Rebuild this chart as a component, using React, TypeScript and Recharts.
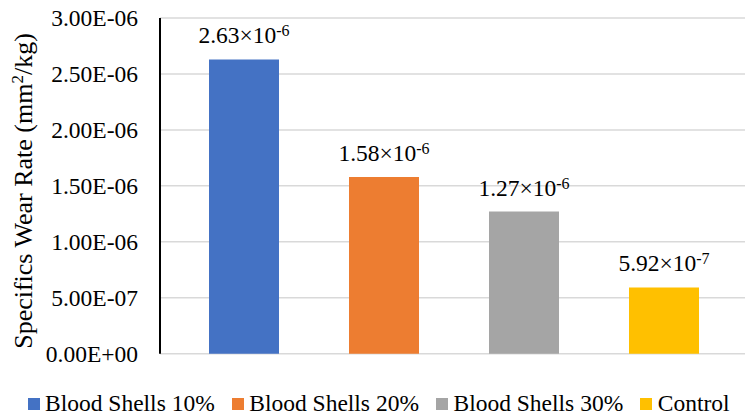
import React from 'react';
import { BarChart, Bar, XAxis, YAxis, CartesianGrid, Legend, LabelList } from 'recharts';

const seriesKeys = ['bs10', 'bs20', 'bs30', 'control'];
const seriesNames = ['Blood Shells 10%', 'Blood Shells 20%', 'Blood Shells 30%', 'Control'];
const wearRates = [2.63e-6, 1.58e-6, 1.27e-6, 5.92e-7];
const seriesColors = ['#4472C4', '#ED7D31', '#A5A5A5', '#FFC000'];
const yTicks = [0, 5e-7, 1e-6, 1.5e-6, 2e-6, 2.5e-6, 3e-6];

const data = [
    {
        name: 'Specific wear rate',
        ...Object.fromEntries(seriesKeys.map((key, i) => [key, wearRates[i]])),
    },
];

const FONT = 'Liberation Serif, serif';

// 2.5e-6 -> "2.50E-06"
const formatTick = (v: number) => {
    const [m, e] = v.toExponential(2).split('e');
    const n = parseInt(e, 10);
    return `${m}E${n < 0 ? '-' : '+'}${String(Math.abs(n)).padStart(2, '0')}`;
};

const ValueLabel = (props: any) => {
    const { x, y, width, value } = props;
    const [m, e] = Number(value).toExponential(2).split('e');
    const exp = String(parseInt(e, 10));
    return (
        <text x={x + width / 2} y={y - 16} textAnchor="middle" fontFamily={FONT} fontSize={23.5} fill="#000">
            {`${m}×10`}
            <tspan dy={-7} fontSize={16}>{exp}</tspan>
        </text>
    );
};

const YTitle = () => (
    <text
        x={32}
        y={191}
        transform="rotate(-90, 32, 191)"
        textAnchor="middle"
        fontFamily={FONT}
        fontSize={26}
        fill="#000"
    >
        Specifics Wear Rate (mm
        <tspan dy={-9} fontSize={17}>2</tspan>
        <tspan dy={9}>/kg)</tspan>
    </text>
);

const LegendContent = (props: any) => {
    const { payload = [] } = props;
    return (
        <div style={{ display: 'flex', alignItems: 'center', paddingLeft: 27.5, fontFamily: FONT, fontSize: 23.5, color: '#000', whiteSpace: 'nowrap' }}>
            {payload.map((entry: any) => (
                <div key={entry.value} style={{ display: 'flex', alignItems: 'center', marginRight: 17 }}>
                    <span style={{ display: 'inline-block', width: 12, height: 12, background: entry.color, marginRight: 5.5 }} />
                    <span>{entry.value}</span>
                </div>
            ))}
        </div>
    );
};

export default function App() {
    return (
        <div style={{ position: 'absolute', left: 0, top: 0, width: 745, height: 419, overflow: 'hidden', background: '#fff' }}>
            <BarChart
                width={748}
                height={419}
                data={data}
                margin={{ top: 18, right: 0, left: 0, bottom: 35.3 }}
                barSize={70}
                barGap={70}
            >
                <CartesianGrid vertical={false} stroke="#d9d9d9" strokeWidth={1.5} />
                <XAxis
                    dataKey="name"
                    tick={false}
                    tickLine={false}
                    height={0}
                    axisLine={{ stroke: '#000', strokeWidth: 2 }}
                />
                <XAxis
                    xAxisId="top"
                    orientation="top"
                    dataKey="name"
                    tick={false}
                    tickLine={false}
                    height={0}
                    axisLine={{ stroke: '#000', strokeWidth: 2 }}
                />
                <YAxis
                    width={160}
                    domain={[0, 3e-6]}
                    ticks={yTicks}
                    interval={0}
                    tickFormatter={formatTick}
                    tickLine={false}
                    tickSize={0}
                    tickMargin={22}
                    axisLine={{ stroke: '#000', strokeWidth: 2 }}
                    tick={{ fill: '#000', fontSize: 23.5, fontFamily: FONT }}
                    label={<YTitle />}
                />
                <Legend
                    content={<LegendContent />}
                    height={30}
                    wrapperStyle={{ top: 390, left: 0, height: 30 }}
                />
                {seriesKeys.map((key, i) => (
                    <Bar key={key} dataKey={key} name={seriesNames[i]} fill={seriesColors[i]} isAnimationActive={false}>
                        <LabelList dataKey={key} content={<ValueLabel />} />
                    </Bar>
                ))}
            </BarChart>
        </div>
    );
}
